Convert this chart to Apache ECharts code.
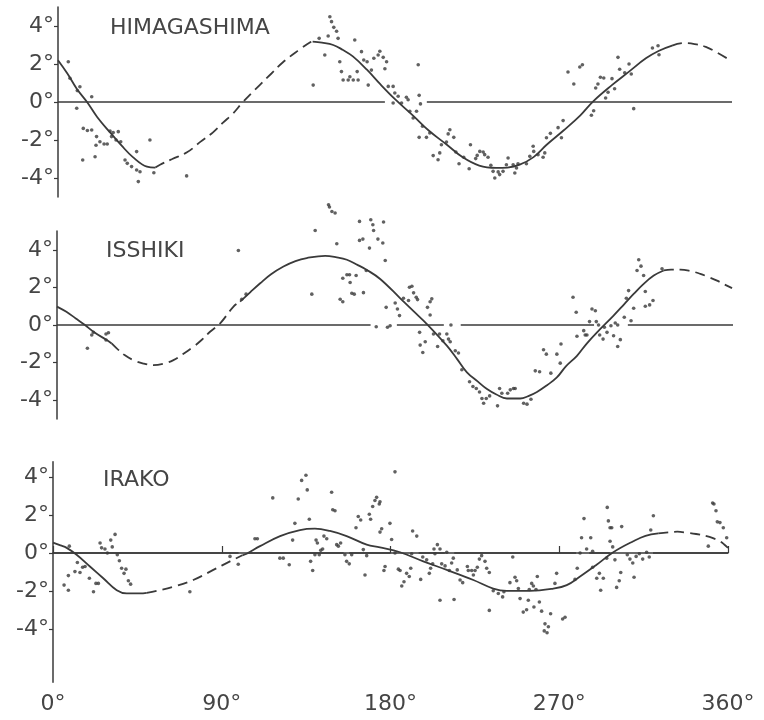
<!DOCTYPE html>
<html>
<head>
<meta charset="utf-8">
<script src="https://cdn.jsdelivr.net/npm/echarts@6/dist/echarts.min.js"></script>
<style>
html,body{margin:0;padding:0;background:#fff;}
#chart{width:764px;height:720px;}
</style>
</head>
<body>
<div id="chart"></div>
<script>
// ---- tick labels ----
const xTicks = [0, 90, 180, 270, 360];
const yTicks = [-4, -2, 0, 2, 4];
const panelNames = ['HIMAGASHIMA', 'ISSHIKI', 'IRAKO'];

// ---- HIMAGASHIMA ----
const himaSolid1 = [[0,2.2],[5,1.5],[10,0.7],[15.5,0],[21,-0.8],[27.8,-1.6],[34,-2.3],[40,-2.9],[47.5,-3.4],[52,-3.45]];
const himaDash1 = [[52,-3.45],[54.5,-3.3],[61,-3.0],[68.9,-2.65],[76,-2.1],[82.8,-1.6],[88,-1.1],[93.5,-0.6],[98.8,0],[108,0.92],[114,1.5],[120,2.08],[129,2.76],[134.5,3.13],[136,3.18]];
const himaSolid2 = [[136,3.18],[141,3.12],[147,3.0],[152,2.75],[157.5,2.4],[165,1.7],[172,0.95],[180,0.15],[189.5,-0.7],[198,-1.5],[207.7,-2.25],[216,-2.9],[225,-3.35],[234,-3.47],[240,-3.45],[246.6,-3.3],[254,-2.9],[261,-2.25],[270,-1.5],[279,-0.7],[286,0.05],[296,0.9],[305,1.6],[314,2.3],[321,2.7],[328,2.97]];
const himaDash2 = [[328,2.97],[334,3.1],[340,3.05],[346,2.9],[352,2.6],[359,2.2]];
const himaZero = [[0,174.6],[197,360]];
const himaDots = [
[5.5,2.12],[6.4,1.25],[11.7,0.8],[10.3,0.6],[18,0.28],[10,-0.33],[13.5,-1.39],[15.7,-1.5],[18,-1.47],[20.6,-1.82],
[22.4,-2.09],[24.6,-2.21],[26.3,-2.21],[20.3,-2.28],[28.6,-1.82],[29.5,-1.61],[27.8,-1.53],[32.2,-1.56],[31,-2.0],[33.5,-2.09],
[13.2,-3.05],[19.8,-2.88],[35.8,-3.05],[37,-3.23],[39.3,-3.4],[42,-3.58],[43.8,-3.67],[42,-2.61],[49.1,-2.0],[42.9,-4.19],
[51.2,-3.72],[68.7,-3.89],[136.3,0.89],[142.5,2.47],[139.5,3.35],[144.3,3.47],[145.2,4.49],[146.1,4.23],[147.3,3.93],[148.8,3.72],
[149.6,3.35],[150.5,2.12],[151.4,1.6],[152.3,1.16],[155,1.16],[157.7,1.16],[160.3,1.16],[155.9,1.33],[158.5,3.26],[159.8,1.6],
[162.1,2.65],[163.3,2.21],[165.1,2.12],[165.7,0.89],[167.4,1.68],[168.7,2.3],[171,2.47],
[171.9,2.67],[173.7,2.35],[175.5,2.12],[174.6,1.75],[176.4,0.82],[179,0.82],[179.9,0.47],[181.7,0.3],[179,-0.05],[183.5,-0.05],
[186.1,0.25],[187,0.12],[187.9,-0.49],[189.7,-0.84],[191.5,-0.49],[192.4,1.96],[192.9,0.35],[193.6,-0.1],[194.7,-1.28],[192.9,-1.86],
[196.8,-1.86],[198.6,-1.63],[200.4,-2.82],[203,-3.04],[203.9,-2.68],[204.8,-2.25],[207.5,-2.11],[208.4,-1.68],[209.3,-1.46],[211.4,-1.86],
[212.5,-2.63],[214.2,-3.25],[216.7,-2.91],[219.6,-3.51],[220.3,-2.25],[223.1,-2.98],[223.9,-2.81],[225.3,-2.6],[227.1,-2.63],[227.9,-2.77],
[229.7,-2.91],[231.2,-3.33],[232.4,-3.65],[233.3,-4.0],[235.1,-3.68],[235.9,-3.82],[237.7,-3.65],[239.5,-3.3],[240.4,-2.95],[243.1,-3.3],
[244,-3.74],[244.9,-3.47],[245.7,-3.25],[250.2,-3.25],[252,-2.86],[253.8,-2.33],[254.1,-2.6],[256.4,-2.77],[259.1,-2.91],[260,-2.68],
[260.9,-1.88],[263,-1.65],[267.1,-1.35],[268.9,-1.88],[269.8,-0.98],[272.4,1.58],[275.5,0.95],[278.7,1.84],[280.1,1.96],[284.9,-0.7],
[286.1,-0.46],[287.2,0.74],[288.4,0.95],[289.7,1.3],[291.5,1.26],[292.5,0.21],[293.8,0.51],[295.9,1.23],[297.3,0.7],[299.1,2.35],
[300,1.72],[302.7,1.54],[305,2.0],[306.2,1.47],[307.5,-0.35],[317.5,2.84],[320.5,2.96],[321,2.49]
];

// ---- ISSHIKI ----
const issSolid1 = [[0,0.98],[5,0.7],[10,0.35],[14.9,0],[20,-0.4],[26.5,-0.8],[29.1,-0.98]];
const issDash1 = [[29.1,-0.98],[31.8,-1.24],[36,-1.6],[40.7,-1.87],[46,-2.05],[51.3,-2.13],[57,-2.05],[62,-1.87],[67,-1.55],[72.6,-1.16],[77,-0.8],[81.5,-0.36],[86.9,0.09],[94,0.98],[97.5,1.24]];
const issSolid2 = [[97.5,1.24],[103,1.75],[108.2,2.22],[114,2.7],[120.6,3.11],[127,3.4],[133,3.56],[142.8,3.68],[149,3.6],[154.4,3.47],[160,3.2],[165,2.93],[172.1,2.45],[182.8,1.42],[190,0.72],[197,0.05],[207.6,-1.1],[213,-1.8],[218.3,-2.52],[224,-3.0],[229,-3.41],[234,-3.7],[239.6,-3.91],[246.7,-3.91],[251,-3.78],[255.6,-3.56],[261,-3.2],[266.2,-2.79],[271,-2.2],[276.9,-1.64],[282,-1.0],[287.6,-0.39],[296.4,0.5],[302,1.1],[307.1,1.65],[312,2.15],[317.8,2.63],[323.1,2.9]];
const issDash2 = [[323.1,2.9],[327,2.95],[332,2.95],[337,2.88],[342.6,2.72],[347,2.55],[351.5,2.36],[355,2.18],[359.5,1.96]];
const issZero = [[0,167],[181,206],[215,286],[304,360]];
const issDots = [
[16.2,-1.24],[18.5,-0.53],[19.4,-0.39],[26.1,-0.48],[27.4,-0.41],[26.1,-0.8],[96.6,3.96],[98.4,1.37],[100.7,1.64],[135.7,1.64],
[137.5,5.03],[144.6,6.4],[145.1,6.28],[146.4,6.04],[148.1,5.96],[149,4.32],[150.8,1.37],[152.2,1.24],[152.2,2.49],[154.4,2.67],
[156.1,2.26],[155.8,2.67],[157,1.69],[158.3,1.64],[159.3,2.63],[161.1,5.51],[161.1,4.5],[162.9,4.57],[163.2,1.72],[164.7,2.9],
[166.4,4.09],[167.1,5.6],[168.2,5.33],[168.6,5.03],[170,-0.09],[170.9,4.57],
[173.9,5.48],[173.5,4.36],[174.8,3.43],[175.3,0.94],[176,-0.12],[177.4,-0.04],[180.1,1.17],[181.3,0.85],[182.4,0.5],[184.5,1.42],
[187.2,1.3],[187.7,2.01],[189,2.06],[189.9,1.71],[191.3,1.48],[192,1.35],[193.1,-0.39],[193.4,-1.07],[194.8,-1.46],[196.1,-0.89],
[197.3,0.94],[198.7,1.24],[199.6,1.39],[198.7,0.53],[200.5,-0.48],[202.7,-1.14],[203.7,-0.48],[205.5,-0.84],[207.6,-0.48],[208.5,-0.75],
[209.4,-0.89],[209.8,0],[212.1,-1.37],[213.8,-1.49],[215.6,-2.38],[219.7,-3.02],[221.5,-3.27],[223.3,-3.38],[225,-3.56],[226.3,-3.91],
[227.2,-4.16],[228.6,-3.91],[230.4,-3.77],[234.6,-4.3],[235.7,-3.38],[236.9,-3.63],[240,-3.63],[241.4,-3.45],[243.1,-3.38],[244,-3.38],
[248.5,-4.16],[250.3,-4.21],[252.4,-3.95],[254.7,-2.44],[257,-2.49],[259.1,-1.32],[260.6,-1.55],[263,-2.56],[266.2,-1.55],[268,-2.03],
[268.4,-1.01],[274.8,1.48],[276.5,0.68],[276.9,-0.6],[280.5,-0.3],[281.3,-0.53],[282.2,-0.53],[283.6,0.18],[284.9,0.85],[286.7,0.76],
[287.2,0.18],[288.4,0],[289,-0.53],[290.8,-0.75],[291.5,-0.12],[292.9,-0.39],[295,-0.04],[296.4,-0.57],[297.3,0.11],[298.6,0],
[298.6,-1.14],[300,-0.78],[302.1,0.41],[303.2,1.42],[304.4,1.83],[305.7,0.23],[307.1,0.89],[308.9,2.9],[309.8,3.47],[311,3.13],
[312.4,2.63],[313.3,1.78],[313.3,1.0],[315.6,1.07],[317.4,1.3],[322.2,2.99]
];

// ---- IRAKO ----
const iraSolid1 = [[0,0.55],[4,0.4],[7.3,0.27],[12.6,-0.09],[19.7,-0.71],[26.8,-1.33],[34,-1.96],[39.3,-2.13],[46.4,-2.13],[50,-2.1]];
const iraDash1 = [[50,-2.1],[55.3,-1.99],[64.2,-1.78],[74.8,-1.42],[85.5,-0.89],[94.4,-0.44],[101,-0.12]];
const iraSolid2 = [[101,-0.12],[103.3,-0.04],[110.4,0.36],[121.1,0.89],[131.7,1.21],[139.7,1.28],[147.7,1.16],[156.6,0.89],[167.3,0.44],[174.4,0.3],[185.1,0.04],[197.5,-0.44],[210,-0.89],[224.2,-1.42],[234.8,-1.87],[242,-1.99],[254.4,-1.99],[266.8,-1.87],[274,-1.69],[281.1,-1.24],[289.9,-0.62],[298.8,0.04],[309.5,0.62],[316,0.9],[322.8,1.03]];
const iraDash2 = [[322.8,1.03],[329.1,1.1],[333,1.12],[338,1.07],[343,1.0],[348.6,0.89],[352,0.78],[355.7,0.62],[358,0.45],[360,0.27]];
const iraZero = [[0,99],[104,155],[158,180],[195,209],[214,279],[286,297],[320,360]];
const iraDots = [
[5.9,-1.69],[8.2,-1.96],[8.7,0.36],[8.2,-1.19],[11.7,-0.98],[13,-0.5],[14.4,-1.03],[15.8,-0.75],[17.1,-0.71],[19.4,-1.33],
[21.6,-2.04],[22.9,-1.6],[24.2,-1.6],[25.1,0.53],[25.9,0.27],[27.7,0.21],[29,0],[30.8,0.68],[31.6,0.32],[33.1,0.98],
[34.3,-0.09],[35.4,-0.41],[36.6,-0.8],[37.9,-1.07],[38.9,-0.85],[40.2,-1.46],[41.4,-1.64],[73,-2.04],[94.4,-0.18],[98.8,-0.59],
[107.7,0.75],[109,0.75],[117.2,2.9],[121,-0.27],[122.8,-0.27],[126,-0.62],[127.8,0.68],[129,1.56],[130.8,2.84],[132.6,3.82],
[134.9,4.09],[135.6,3.32],[136.7,1.78],[137.4,-0.44],[138.5,-0.92],[139.7,-0.09],[140.3,0.68],[141,0.53],[142,-0.09],[142.8,0.14],
[143.8,0.21],[144.5,0.89],[146,0.75],[148.6,3.2],[149.2,2.28],[150.4,2.22],[151.3,0.44],[152.2,0.36],[153.4,0.53],[155.7,-0.09],
[156.6,-0.44],[158,-0.57],[159.3,-0.09],[161.6,1.33],[162.8,1.92],[164.1,1.74],[165.5,0.18],[166.4,-1.16],[167.3,-0.14],[168.7,2.04],
[169.4,1.78],[170.5,2.45],[171.7,2.76],[172.6,2.93],[174,2.58],[174.4,1.1],
[182.4,4.27],[174.4,2.7],[175.3,1.28],[179.7,1.56],[180.6,0.71],[182.4,0],[177.1,-0.71],[176.5,-0.92],[184.2,-0.85],[185.1,-0.92],
[186,-1.74],[187.2,-1.51],[188.6,-1.07],[190,-1.24],[190.8,-0.8],[191.8,1.16],[194,0.89],[191.3,-0.04],[196.1,-1.39],[197.2,-0.21],
[199.3,-0.36],[200.7,-1.07],[201.4,-0.8],[202.5,-0.57],[203.2,0.21],[203.7,-0.04],[205,0.44],[206.4,0.21],[206.4,-2.49],[207.3,-0.57],
[209.1,-0.68],[210,0.04],[211.4,-0.92],[212.6,-0.53],[213.5,-0.27],[213.9,-2.45],[215.6,-0.89],[217.1,-1.42],[218.5,-1.56],[221,-0.71],
[221.5,-0.92],[223.3,-0.92],[224.2,-1.16],[225.1,-0.92],[226.3,-0.75],[227.4,-0.32],[228.6,-0.14],[230.4,-0.44],[231.3,-0.8],[232.7,-1.03],
[232.7,-3.02],[234.8,-1.99],[237.5,-2.13],[239.8,-2.31],[240.5,-2.04],[243.7,-1.56],[245.2,-0.21],[246.4,-1.28],[247.3,-1.46],[248.2,-1.87],
[249.1,-2.4],[250.8,-3.11],[252.6,-2.99],[253.5,-2.49],[254,-1.92],[255.3,-1.6],[256.2,-1.74],[256.5,-2.84],[257.6,-1.92],[258.3,-1.24],
[259.4,-2.58],[260.6,-3.06],[262.4,-3.73],[264.2,-3.88],[265.4,-3.2],[262,-4.1],[263.5,-4.2],[267.7,-1.6],[268.6,-1.07],[271.8,-3.47],
[273.1,-3.38],[278.4,-1.39],[279.6,-0.8],[281.1,0],[281.9,0.8],[283.2,1.81],[284.6,0.21],[286.8,0.8],[287.8,0.09],[287.8,-0.75],
[290,-1.33],[291.4,-1.07],[292.1,-1.96],[293.5,-1.33],[295.3,-0.27],[295.6,2.4],[296.2,1.69],[297.1,1.33],[297.1,0.62],[298,1.33],
[298.5,0.32],[299.7,-0.36],[300.6,-1.81],[302,-1.46],[302.8,-1.03],[303.3,1.39],[306.3,-0.09],[307.7,-0.32],[309.2,-0.53],[309.9,-1.28],
[311,-0.18],[312.7,-0.04],[314.5,-0.32],[316.6,0.04],[318,-0.21],[318.8,1.21],[320.2,1.96],[349.5,0.36],[351.8,2.63],[352.5,2.58],
[353.6,2.22],[354.3,1.64],[355.7,1.6],[357.5,1.33],[359.3,0.8]
];

// ---- build ----
const INK = '#3a3a3a';
const TXT = '#454545';
const FONT = 'DejaVu Sans';

const panels = [
  {solid:[himaSolid1, himaSolid2], dash:[himaDash1, himaDash2], zero: himaZero, dots: himaDots},
  {solid:[issSolid1, issSolid2], dash:[issDash1, issDash2], zero: issZero, dots: issDots},
  {solid:[iraSolid1, iraSolid2], dash:[iraDash1, iraDash2], zero: iraZero, dots: iraDots}
];

const grids = [
  {left: 58, right: 32, top: 7, height: 190},
  {left: 57, right: 31, top: 231, height: 188},
  {left: 53, right: 36, top: 461.8, height: 220.4}
];
const yRanges = [[-5, 5], [-5, 5], [-6.8, 4.8]];

const xAxes = grids.map((g, i) => ({
  gridIndex: i, type: 'value', min: 0, max: 360, interval: 90,
  show: i === 2,
  axisLine: {show: true, lineStyle: {color: INK, width: 1.5}},
  axisTick: {show: true, inside: true, length: 7, lineStyle: {color: INK, width: 1.2}},
  axisLabel: {formatter: v => v + '°', fontSize: 22, color: TXT, margin: 11, fontFamily: FONT, customValues: xTicks},
  splitLine: {show: false}
}));

const yAxes = grids.map((g, i) => ({
  gridIndex: i, type: 'value', min: yRanges[i][0], max: yRanges[i][1],
  axisLine: {show: true, lineStyle: {color: INK, width: 1.5}},
  axisTick: {show: true, length: 4, customValues: yTicks, lineStyle: {color: INK, width: 1.2}},
  axisLabel: {customValues: yTicks, formatter: v => (v < 0 ? '-' + Math.abs(v) : '' + v) + '°', fontSize: 22, color: TXT, margin: 4, fontFamily: FONT},
  splitLine: {show: false}
}));

const series = [];
panels.forEach((p, i) => {
  p.zero.forEach(seg => {
    series.push({type: 'line', xAxisIndex: i, yAxisIndex: i, data: [[seg[0], 0], [seg[1], 0]],
      symbol: 'none', lineStyle: {color: INK, width: 1.3}, silent: true});
  });
  p.solid.forEach(d => {
    series.push({type: 'line', xAxisIndex: i, yAxisIndex: i, data: d, smooth: 0.4,
      symbol: 'none', lineStyle: {color: INK, width: 1.8}, silent: true});
  });
  p.dash.forEach(d => {
    series.push({type: 'line', xAxisIndex: i, yAxisIndex: i, data: d, smooth: 0.4,
      symbol: 'none', lineStyle: {color: INK, width: 1.8, type: [10, 6]}, silent: true});
  });
  series.push({type: 'scatter', xAxisIndex: i, yAxisIndex: i, data: p.dots, clip: false,
    symbolSize: 3.6, itemStyle: {color: INK}, silent: true});
});

const titlePos = [{left: 110, top: 17}, {left: 106, top: 240}, {left: 103, top: 469}];
const titles = panelNames.map((n, i) => ({
  text: n, left: titlePos[i].left, top: titlePos[i].top, padding: 0,
  textStyle: {fontSize: 22, fontWeight: 'normal', color: TXT, fontFamily: FONT}
}));

const chart = echarts.init(document.getElementById('chart'), null, {renderer: 'canvas'});
chart.setOption({
  animation: false,
  backgroundColor: '#fff',
  title: titles,
  grid: grids,
  xAxis: xAxes,
  yAxis: yAxes,
  series: series
});
</script>
</body>
</html>
